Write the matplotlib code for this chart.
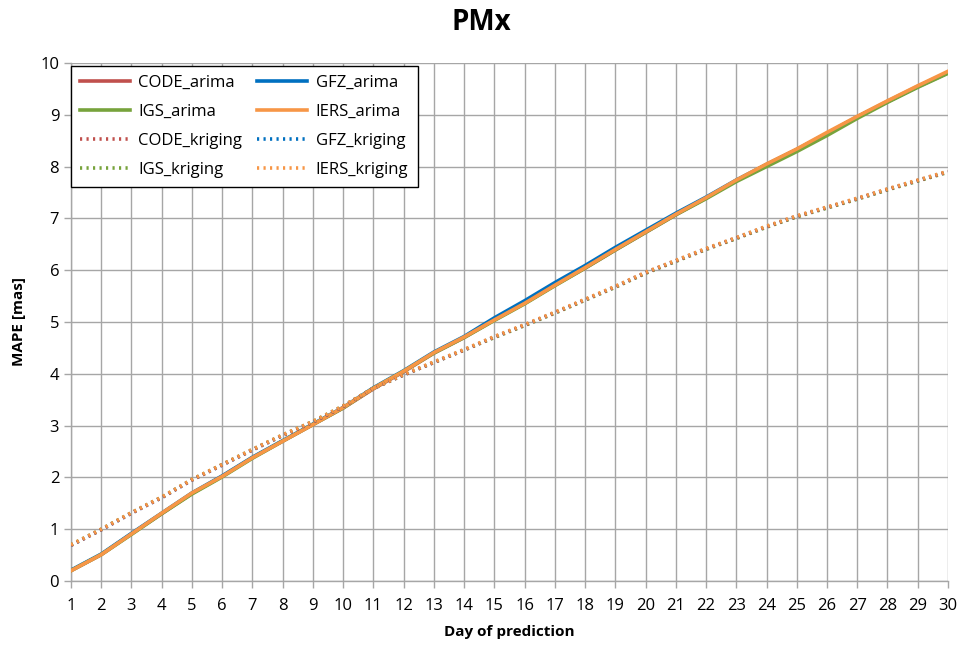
import matplotlib
matplotlib.use("Agg")
import matplotlib.pyplot as plt
from matplotlib.lines import Line2D

plt.rcParams['font.family'] = ['Open Sans', 'DejaVu Sans']

days = list(range(1, 31))

code_arima = [0.20, 0.51, 0.91, 1.30, 1.69, 2.02, 2.38, 2.70, 3.02, 3.34, 3.71, 4.04, 4.40, 4.70, 5.04, 5.36, 5.71, 6.04, 6.39, 6.73, 7.07, 7.39, 7.73, 8.04, 8.33, 8.64, 8.96, 9.26, 9.55, 9.82]
gfz_arima = [0.21, 0.52, 0.92, 1.31, 1.70, 2.03, 2.39, 2.71, 3.03, 3.35, 3.73, 4.06, 4.42, 4.72, 5.08, 5.41, 5.76, 6.09, 6.44, 6.77, 7.10, 7.41, 7.74, 8.04, 8.33, 8.64, 8.96, 9.25, 9.54, 9.81]
igs_arima = [0.20, 0.51, 0.90, 1.30, 1.68, 2.01, 2.37, 2.70, 3.02, 3.34, 3.72, 4.05, 4.40, 4.70, 5.03, 5.35, 5.70, 6.04, 6.39, 6.73, 7.07, 7.38, 7.71, 8.00, 8.29, 8.60, 8.93, 9.24, 9.53, 9.80]
iers_arima = [0.20, 0.51, 0.91, 1.31, 1.70, 2.02, 2.38, 2.70, 3.02, 3.35, 3.72, 4.05, 4.41, 4.71, 5.04, 5.36, 5.71, 6.05, 6.40, 6.74, 7.08, 7.40, 7.74, 8.05, 8.34, 8.66, 8.97, 9.27, 9.56, 9.84]

code_kriging = [0.69, 0.99, 1.31, 1.61, 1.95, 2.24, 2.53, 2.81, 3.07, 3.37, 3.72, 3.98, 4.22, 4.46, 4.71, 4.94, 5.18, 5.43, 5.68, 5.95, 6.18, 6.41, 6.62, 6.84, 7.04, 7.21, 7.38, 7.56, 7.73, 7.90]
gfz_kriging = [0.69, 0.99, 1.31, 1.61, 1.95, 2.24, 2.53, 2.81, 3.07, 3.37, 3.72, 3.98, 4.22, 4.46, 4.71, 4.94, 5.18, 5.43, 5.68, 5.95, 6.18, 6.41, 6.62, 6.84, 7.04, 7.21, 7.38, 7.56, 7.73, 7.90]
igs_kriging = [0.70, 1.00, 1.32, 1.62, 1.96, 2.25, 2.54, 2.82, 3.08, 3.38, 3.72, 3.98, 4.22, 4.46, 4.70, 4.93, 5.17, 5.42, 5.67, 5.94, 6.17, 6.40, 6.61, 6.83, 7.03, 7.20, 7.37, 7.55, 7.72, 7.89]
iers_kriging = [0.70, 1.00, 1.32, 1.62, 1.96, 2.25, 2.54, 2.82, 3.08, 3.38, 3.72, 3.99, 4.23, 4.47, 4.72, 4.95, 5.19, 5.44, 5.69, 5.96, 6.19, 6.42, 6.63, 6.85, 7.05, 7.22, 7.39, 7.57, 7.74, 7.91]

c_red = '#C0504D'
c_blue = '#0070C0'
c_green = '#77A33C'
c_orange = '#F79646'

fig = plt.figure(figsize=(9.62, 6.46), dpi=100)
ax = fig.add_axes([0.0738, 0.1006, 0.9116, 0.8019])

lw = 2.6
dot = (0, (0.6, 1.2))
ax.plot(days, code_arima, color=c_red, lw=lw, label='CODE_arima', zorder=3)
ax.plot(days, gfz_arima, color=c_blue, lw=lw, label='GFZ_arima', zorder=3)
ax.plot(days, igs_arima, color=c_green, lw=lw, label='IGS_arima', zorder=3)
ax.plot(days, iers_arima, color=c_orange, lw=lw, label='IERS_arima', zorder=3)
ax.plot(days, gfz_kriging, color=c_blue, lw=lw, ls=dot, label='GFZ_kriging', zorder=3)
ax.plot(days, igs_kriging, color=c_green, lw=lw, ls=dot, label='IGS_kriging', zorder=3)
ax.plot(days, code_kriging, color=c_red, lw=lw, ls=dot, label='CODE_kriging', zorder=3)
ax.plot(days, iers_kriging, color=c_orange, lw=lw, ls=dot, label='IERS_kriging', zorder=3)

ax.set_xlim(1, 30)
ax.set_ylim(0, 10)
ax.set_xticks(days)
ax.set_yticks(range(0, 11))
ax.grid(True, color='#A6A6A6', lw=1.0, zorder=0)
ax.set_axisbelow(True)
for s in ['top', 'right']:
    ax.spines[s].set_visible(False)
for s in ['left', 'bottom']:
    ax.spines[s].set_color('#A6A6A6')
    ax.spines[s].set_linewidth(1.0)
ax.tick_params(axis='both', colors='#A6A6A6', labelcolor='black', labelsize=12, length=5, width=1)
ax.tick_params(axis='x', pad=7)

ax.set_xlabel('Day of prediction', fontsize=11, fontweight='bold', labelpad=8)
ax.set_ylabel('MAPE [mas]', fontsize=11, fontweight='bold', labelpad=10)
fig.suptitle('PMx', fontsize=20, fontweight='bold', y=0.988)

handles = [
    Line2D([], [], color=c_red, lw=lw),
    Line2D([], [], color=c_green, lw=lw),
    Line2D([], [], color=c_red, lw=lw, ls=dot),
    Line2D([], [], color=c_green, lw=lw, ls=dot),
    Line2D([], [], color=c_blue, lw=lw),
    Line2D([], [], color=c_orange, lw=lw),
    Line2D([], [], color=c_blue, lw=lw, ls=dot),
    Line2D([], [], color=c_orange, lw=lw, ls=dot),
]
labels = ['CODE_arima', 'IGS_arima', 'CODE_kriging', 'IGS_kriging',
          'GFZ_arima', 'IERS_arima', 'GFZ_kriging', 'IERS_kriging']
leg = ax.legend(handles, labels, ncol=2, loc='upper left', bbox_to_anchor=(0.0, 0.994),
                borderaxespad=0.0,
                fontsize=12, frameon=True, fancybox=False, framealpha=1,
                edgecolor='black', handlelength=3.0, columnspacing=0.9,
                borderpad=0.55, labelspacing=0.78, handletextpad=0.5)
leg.get_frame().set_linewidth(1.0)

fig.savefig('out.png', dpi=100, facecolor='white')
